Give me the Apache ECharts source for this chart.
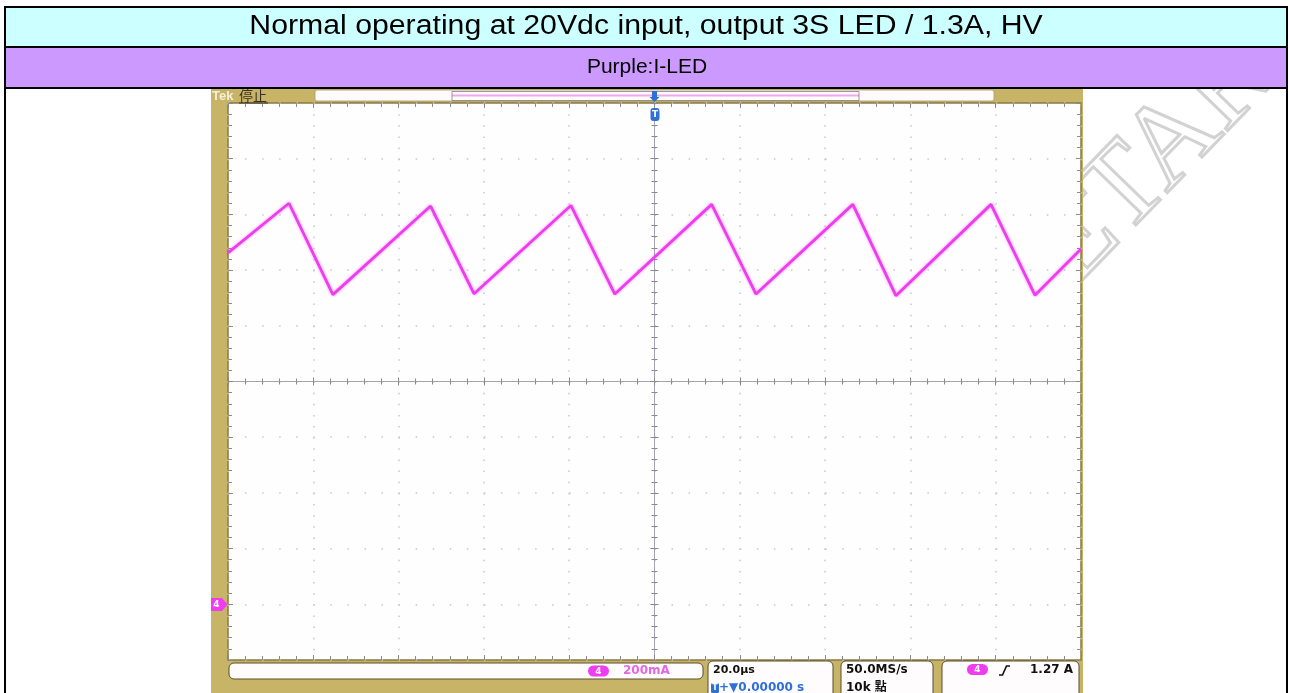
<!DOCTYPE html>
<html>
<head>
<meta charset="utf-8">
<script src="https://cdn.jsdelivr.net/npm/echarts/dist/echarts.min.js"></script>
<style>
  html, body { margin: 0; padding: 0; background: #fff; }
  #main { width: 1290px; height: 693px; }
</style>
</head>
<body>
<div id="main"></div>
<script>
// header rows of the report table
const titleText = 'Normal operating at 20Vdc input, output 3S LED / 1.3A, HV';
const legendText = 'Purple:I-LED';

// scope trace: time (us) vs LED current (mA)
const timeUs = [-100, -85.7, -75.4, -52.5, -42.3, -19.6, -9.3, 13.4, 23.8, 46.5, 56.6, 78.9, 89.2, 100];
const currentMa = [1262, 1440, 1112, 1430, 1115, 1432, 1114, 1436, 1114, 1436, 1108, 1436, 1110, 1276];

// axis ranges: 20us/div horizontally, 200mA/div vertically, ground 4 div below centre
const timeRange = [-100, 100, 20];
const currentRange = [-200, 1800, 200];
const divRange = [-5, 5, 1];

// readout texts of the scope status bar
const chLabel = '4';
const scaleLabel = '200mA';
const timebaseLabels = ['20.0µs', '+▼0.00000 s'];
const sampleLabels = ['50.0MS/s', '10k 點'];
const triggerLabel = '1.27 A';
const topLabels = ['Tek', '停止'];

const chart = echarts.init(document.getElementById('main'));

const tan = '#c8b466';
const magenta = '#f03cf0';
const blue = '#2f6fd6';
const tickColor = '#8a8a8a';
const readout = 'bold 12px "DejaVu Sans", "Noto Sans CJK TC"';

function edgeAxis(range, pos, extra) {
  return Object.assign({
    type: 'value', position: pos,
    min: range[0], max: range[1], interval: range[2],
    axisLine: { show: false, onZero: false },
    axisTick: { show: true, inside: true, length: 5, lineStyle: { color: tickColor } },
    minorTick: { show: true, splitNumber: 5, length: 4, lineStyle: { color: tickColor } },
    axisLabel: { show: false },
    splitLine: { show: false }
  }, extra || {});
}

function centreAxis(range, pos, inside, zeroIdx, showLine) {
  return {
    type: 'value', position: pos,
    min: range[0], max: range[1], interval: range[2],
    axisLine: { show: showLine, onZero: true, onZeroAxisIndex: zeroIdx, lineStyle: { color: '#a4a4b4', width: 1 } },
    axisTick: { show: true, inside: inside, length: 4, lineStyle: { color: tickColor } },
    minorTick: { show: true, splitNumber: 5, length: 3, lineStyle: { color: tickColor } },
    axisLabel: { show: false },
    splitLine: { show: false }
  };
}

const gridDots = { color: '#c6c6d2', width: 1.5 };

function box(x, y, w, h) {
  return { type: 'rect', z: 5, shape: { x: x, y: y, width: w, height: h, r: 5 },
    style: { fill: '#fffcfd', stroke: '#5a4e2c', lineWidth: 1 } };
}
function txt(x, y, s, font, fill, align, extra) {
  return Object.assign({ type: 'text', z: 6, x: x, y: y,
    style: { text: s, font: font, fill: fill, textAlign: align || 'left', align: align || 'left',
      textVerticalAlign: 'middle', verticalAlign: 'middle' } }, extra || {});
}
function pill(x, y) {
  return [
    { type: 'rect', z: 6, shape: { x: x, y: y, width: 21, height: 11, r: 5.5 }, style: { fill: magenta } },
    txt(x + 10.5, y + 5.7, chLabel, 'bold 9px "DejaVu Sans"', '#fff', 'center', { z: 7 })
  ];
}

const graphics = [
  // watermark, under everything else
  { type: 'text', z: -3, x: 1040, y: 280, rotation: 0.8,
    style: { text: 'PROPRIETARY', font: '116px "Liberation Serif"', fill: 'none', stroke: '#d2d2d2', lineWidth: 3,
      textAlign: 'center', align: 'center', textVerticalAlign: 'middle', verticalAlign: 'middle' } },
  // scope frame
  { type: 'rect', z: -2, shape: { x: 211, y: 89, width: 872, height: 604 }, style: { fill: tan } },
  // table rows
  { type: 'rect', z: 4, shape: { x: 0, y: 0, width: 1290, height: 7 }, style: { fill: '#fff' } },
  { type: 'rect', z: 4, shape: { x: 1288, y: 0, width: 2, height: 693 }, style: { fill: '#fff' } },
  { type: 'rect', z: 4, shape: { x: 5, y: 7, width: 1282, height: 40 }, style: { fill: '#ccffff' } },
  { type: 'rect', z: 4, shape: { x: 5, y: 47, width: 1282, height: 41 }, style: { fill: '#cc99ff' } },
  { type: 'line', z: 5, shape: { x1: 4, y1: 7, x2: 1288, y2: 7 }, style: { stroke: '#000', lineWidth: 2 } },
  { type: 'line', z: 5, shape: { x1: 4, y1: 47, x2: 1288, y2: 47 }, style: { stroke: '#000', lineWidth: 2 } },
  { type: 'line', z: 5, shape: { x1: 4, y1: 88, x2: 1288, y2: 88 }, style: { stroke: '#000', lineWidth: 2 } },
  { type: 'line', z: 5, shape: { x1: 5, y1: 6, x2: 5, y2: 693 }, style: { stroke: '#000', lineWidth: 2 } },
  { type: 'line', z: 5, shape: { x1: 1287, y1: 6, x2: 1287, y2: 693 }, style: { stroke: '#000', lineWidth: 2 } },
  txt(646, 27, titleText, '27px "Liberation Sans"', '#000', 'center', { scaleX: 1.12 }),
  txt(647, 67, legendText, '21px "Liberation Sans"', '#000', 'center'),
  // scope top bar
  txt(212, 96, topLabels[0], 'bold 13px "Liberation Sans"', '#f4efd8'),
  txt(239, 96, topLabels[1], '14px "Noto Sans CJK TC"', '#3a3020'),
  { type: 'line', z: 6, shape: { x1: 239, y1: 103, x2: 268, y2: 103 }, style: { stroke: '#3a3020', lineWidth: 1 } },
  { type: 'rect', z: 5, shape: { x: 315, y: 90, width: 679, height: 11, r: 2 },
    style: { fill: '#fffafc', stroke: '#a89a6a', lineWidth: 0.8 } },
  { type: 'line', z: 6, shape: { x1: 452, y1: 95.5, x2: 859, y2: 95.5 }, style: { stroke: '#f0a8f0', lineWidth: 2 } },
  { type: 'rect', z: 6, shape: { x: 452, y: 91.5, width: 407, height: 9 },
    style: { fill: 'none', stroke: '#808080', lineWidth: 0.8 } },
  { type: 'polygon', z: 7, shape: { points: [[652, 91], [657, 91], [657, 97], [659.5, 97], [654.5, 102], [649.5, 97], [652, 97]] },
    style: { fill: blue } },
  { type: 'rect', z: 7, shape: { x: 650.5, y: 108, width: 9, height: 13, r: 3 }, style: { fill: blue } },
  txt(655, 114.5, 'T', 'bold 9px "DejaVu Sans"', '#fff', 'center', { z: 8 }),
  // channel ground marker
  { type: 'polygon', z: 6, shape: { points: [[211, 598], [222, 598], [227.5, 604.5], [222, 611], [211, 611]] },
    style: { fill: magenta } },
  txt(216.5, 604.8, chLabel, 'bold 9px "DejaVu Sans"', '#fff', 'center', { z: 7 }),
  // status bar
  box(229, 663, 474, 16),
  ...pill(588, 665.5),
  txt(623, 671, scaleLabel, readout, '#e466e4'),
  box(708, 661, 125, 40),
  txt(713, 670, timebaseLabels[0], 'bold 11px "DejaVu Sans"', '#111'),
  { type: 'rect', z: 6, shape: { x: 711, y: 683, width: 8, height: 10, r: 1.5 }, style: { fill: blue } },
  txt(715, 688.3, 'T', 'bold 8px "DejaVu Sans"', '#fff', 'center', { z: 7 }),
  txt(719, 688, timebaseLabels[1], readout, blue),
  box(841, 661, 92, 40),
  txt(846, 670, sampleLabels[0], readout, '#111'),
  txt(846, 688, sampleLabels[1], readout, '#111'),
  box(942, 661, 137, 40),
  ...pill(967, 664),
  { type: 'polyline', z: 6, shape: { points: [[999, 675], [1002.5, 675], [1006.5, 666], [1010, 666]] },
    style: { stroke: '#111', lineWidth: 1.6, fill: 'none' } },
  txt(1030, 670, triggerLabel, readout, '#111')
];

const option = {
  animation: false,
  backgroundColor: '#ffffff',
  grid: {
    left: 228, top: 103, width: 853, height: 557,
    show: true, backgroundColor: '#fefefe', borderColor: '#8a7a42', borderWidth: 1.5,
    outerBoundsMode: 'none'
  },
  xAxis: [
    edgeAxis(timeRange, 'bottom', { splitLine: { show: true, lineStyle: Object.assign({ type: [1.5, 9.64] }, gridDots) } }),
    edgeAxis(timeRange, 'top'),
    centreAxis(timeRange, 'bottom', true, 1, true),
    centreAxis(timeRange, 'bottom', false, 1, false)
  ],
  yAxis: [
    edgeAxis(currentRange, 'left', { splitLine: { show: true, lineStyle: Object.assign({ type: [1.5, 15.56] }, gridDots) } }),
    edgeAxis(divRange, 'right'),
    centreAxis(divRange, 'left', true, 0, true),
    centreAxis(divRange, 'left', false, 0, false)
  ],
  graphic: { elements: graphics },
  series: [{
    name: 'I-LED',
    type: 'line',
    xAxisIndex: 0,
    yAxisIndex: 0,
    z: 4,
    showSymbol: false,
    data: timeUs.map((t, i) => [t, currentMa[i]]),
    lineStyle: { color: magenta, width: 2.8, shadowBlur: 3, shadowColor: 'rgba(240,60,240,0.55)' }
  }]
};

chart.setOption(option);
</script>
</body>
</html>
